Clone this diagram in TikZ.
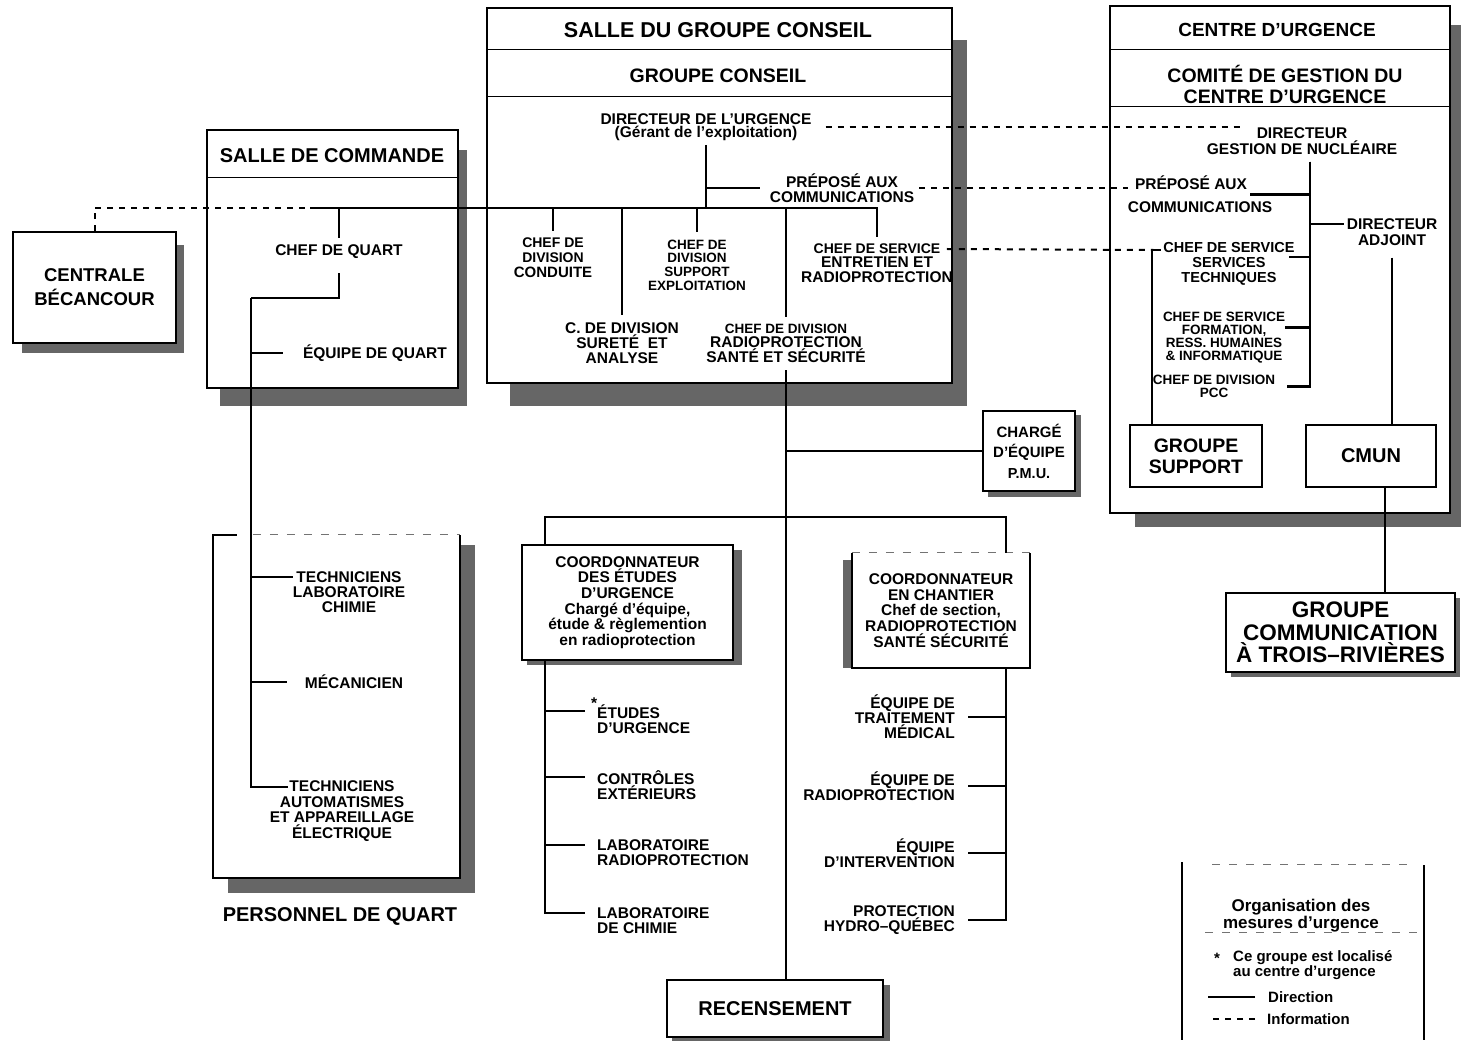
\documentclass[tikz,border=0pt]{standalone}
\usepackage{fontspec}
\setmainfont{Liberation Sans}

\newcommand{\fs}[2]{\fontsize{#1}{#2}\selectfont\bfseries}

\begin{document}
\begin{tikzpicture}[x=1pt, y=-1pt,
        room/.style={draw, line width=1.6pt, fill=white, inner sep=0pt},
        boxshadow/.style={fill=black!60},
        lbl/.style={inner sep=0pt, align=center, font=\fs{15.5}{15}},
        lblsmall/.style={inner sep=0pt, align=center, font=\fs{13.5}{13.5}},
        lblbig/.style={inner sep=0pt, align=center, font=\fs{20}{23}},
        divider/.style={line width=1pt},
        faint/.style={line width=0.8pt, black!55, dash pattern=on 8pt off 9pt},
        dirline/.style={line width=2.3pt},
        infoline/.style={line width=2pt, dash pattern=on 6pt off 6pt}]

        \useasboundingbox (0,0) rectangle (1461,1048);

        % ombres
        \fill[boxshadow] (510,383) rectangle (967,406);
        \fill[boxshadow] (952,40) rectangle (967,406);
        \fill[boxshadow] (220,388) rectangle (467,406);
        \fill[boxshadow] (458,150) rectangle (467,406);
        \fill[boxshadow] (22,343) rectangle (184,353);
        \fill[boxshadow] (176,245) rectangle (184,353);
        \fill[boxshadow] (228,878) rectangle (475,893);
        \fill[boxshadow] (460,545) rectangle (475,893);
        \fill[boxshadow] (1135,513) rectangle (1461,527);
        \fill[boxshadow] (1450,25) rectangle (1461,527);
        \fill[boxshadow] (988,490) rectangle (1081,497);
        \fill[boxshadow] (1075,415) rectangle (1081,497);
        \fill[boxshadow] (527,660) rectangle (742,665);
        \fill[boxshadow] (733,550) rectangle (742,665);
        \fill[boxshadow] (843,560) rectangle (852,668);
        \fill[boxshadow] (672,1037) rectangle (890,1041);
        \fill[boxshadow] (883,985) rectangle (890,1041);
        \fill[boxshadow] (1135,487) rectangle (1268,493);
        \fill[boxshadow] (1262,428) rectangle (1268,493);
        \fill[boxshadow] (1311,487) rectangle (1442,493);
        \fill[boxshadow] (1436,428) rectangle (1442,493);
        \fill[boxshadow] (1231,672) rectangle (1460,677);
        \fill[boxshadow] (1455,598) rectangle (1460,677);

        % salle du groupe conseil
        \node[room, minimum width=465pt, minimum height=375pt] (gcroom) at (719.5,195.5) {};
        \draw[divider] (gcroom.west |- 0,50) -- (gcroom.east |- 0,50);
        \draw[divider] (gcroom.west |- 0,97) -- (gcroom.east |- 0,97);
        \node[lblbig, font=\fs{21.5}{23}] (gctitle) at (718,30) {SALLE DU GROUPE CONSEIL};
        \node[lblbig, font=\fs{19.5}{23}] (gcname) at (718,76) {GROUPE CONSEIL};

        \node[lbl, font=\fs{15.5}{13.5}] (dirurg) at (706,127) {DIRECTEUR DE L'URGENCE\\\fs{15.5}{13.5}(Gérant de l'exploitation)};
        \node[lbl] (prepgc) at (842,188) {PRÉPOSÉ AUX\\COMMUNICATIONS};
        \node[lbl, font=\fs{14}{15}] (chconduite) at (553,258) {CHEF DE\\DIVISION\\\fs{15}{15}CONDUITE};
        \node[lbl] (chsurete) at (622,343) {C. DE DIVISION\\SURETÉ\ \ ET\\ANALYSE};
        \node[lblsmall, font=\fs{13.5}{13.7}] (chsupport) at (697,265) {CHEF DE\\DIVISION\\SUPPORT\\EXPLOITATION};
        \node[lbl, font=\fs{15.5}{14.5}] (chradio) at (786,343) {\fs{13.5}{14.5}CHEF DE DIVISION\\RADIOPROTECTION\\SANTÉ ET SÉCURITÉ};
        \node[lbl, font=\fs{15.5}{14.5}] (chentretien) at (877,263) {\fs{14}{14.5}CHEF DE SERVICE\\ENTRETIEN ET\\RADIOPROTECTION};

        % salle de commande
        \node[room, minimum width=251pt, minimum height=258pt] (scroom) at (332.5,259) {};
        \draw[divider] (scroom.west |- 0,178) -- (scroom.east |- 0,178);
        \node[lblbig] (sctitle) at (332,156) {SALLE DE COMMANDE};
        \node[lbl] (chquart) at (339,252) {CHEF DE QUART};
        \node[lbl] (eqquart) at (375,353) {ÉQUIPE DE QUART};

        \node[room, lblbig, font=\fs{18.5}{24}, minimum width=163pt, minimum height=111pt] (centrale) at (94.5,287.5) {CENTRALE\\BÉCANCOUR};

        % personnel de quart
        \node[fill=white, inner sep=0pt, minimum width=247pt, minimum height=343pt] (pqroom) at (336.5,706.5) {};
        \draw[line width=1.6pt] ([xshift=24pt]pqroom.north west) -- (pqroom.north west) -- (pqroom.south west) -- (pqroom.south east) -- (pqroom.north east);
        \draw[faint] ([xshift=40pt]pqroom.north west) -- (pqroom.north east);
        \node[lblbig] (pqlabel) at (340,916) {PERSONNEL DE QUART};
        \node[lbl] (techchim) at (349,592) {TECHNICIENS\\LABORATOIRE\\CHIMIE};
        \node[lbl] (mecan) at (354,682) {MÉCANICIEN};
        \node[lbl, font=\fs{15.5}{15.7}] (techauto) at (342,811) {TECHNICIENS\\AUTOMATISMES\\ET APPAREILLAGE\\ÉLECTRIQUE};

        % centre d'urgence
        \node[room, minimum width=340pt, minimum height=507pt] (curoom) at (1280,259.5) {};
        \draw[divider] (curoom.west |- 0,50) -- (curoom.east |- 0,50);
        \draw[divider] (curoom.west |- 0,107) -- (curoom.east |- 0,107);
        \node[lblbig, font=\fs{19}{23}] (cutitle) at (1277,30) {CENTRE D'URGENCE};
        \node[lblbig, font=\fs{19.5}{21}] (comite) at (1285,84) {COMITÉ DE GESTION DU\\CENTRE D'URGENCE};

        \node[lbl, font=\fs{15.5}{16}] (dirgn) at (1302,141) {DIRECTEUR\\GESTION DE NUCLÉAIRE};
        \node[lbl, font=\fs{15.5}{23}] (prepcu) at (1200,194.5) {PRÉPOSÉ AUX\hspace*{18pt}\\COMMUNICATIONS};
        \node[lbl, font=\fs{15.5}{16}] (diradj) at (1392,232) {DIRECTEUR\\ADJOINT};
        \node[lbl, font=\fs{14.5}{15}] (chservtech) at (1229,264) {CHEF DE SERVICE\\SERVICES\\TECHNIQUES};
        \node[lblsmall, font=\fs{13.5}{13}] (chform) at (1224,337.5) {CHEF DE SERVICE\\FORMATION,\\RESS. HUMAINES\\\& INFORMATIQUE};
        \node[lblsmall, font=\fs{13.5}{13}] (chpcc) at (1214,386.5) {CHEF DE DIVISION\\PCC};

        \node[room, lblbig, font=\fs{19.5}{21}, minimum width=132pt, minimum height=62pt] (gsupport) at (1196,456) {GROUPE\\SUPPORT};
        \node[room, lblbig, minimum width=130pt, minimum height=62pt] (cmun) at (1371,456) {CMUN};
        \node[room, lblbig, font=\fs{22.5}{22.5}, minimum width=229pt, minimum height=79pt] (grcomm) at (1340.5,632.5) {GROUPE\\COMMUNICATION\\À TROIS–RIVIÈRES};

        % P.M.U. et coordonnateurs
        \node[room, lbl, font=\fs{15}{20.5}, minimum width=92pt, minimum height=80pt] (chargepmu) at (1029,451) {CHARGÉ\\D'ÉQUIPE\\\fs{14.5}{20.5}P.M.U.};
        \node[room, lbl, font=\fs{15.5}{15.6}, minimum width=211pt, minimum height=115pt] (coordet) at (627.5,602.5) {COORDONNATEUR\\DES ÉTUDES\\D'URGENCE\\Chargé d'équipe,\\étude \& règlemention\\en radioprotection};
        \node[lbl, font=\fs{15.5}{15.8}, fill=white, minimum width=178pt, minimum height=115pt] (coordch) at (941,610.5) {COORDONNATEUR\\EN CHANTIER\\Chef de section,\\RADIOPROTECTION\\SANTÉ SÉCURITÉ};
        \draw[line width=1.6pt] (coordch.north west) -- (coordch.south west) -- (coordch.south east) -- (coordch.north east);
        \draw[faint] (coordch.north west) -- (coordch.north east);

        \node[lbl, anchor=west, align=left] (etudes) at (597,719) {\makebox[0pt][r]{\smash{\raisebox{10pt}{*}}}ÉTUDES\\D'URGENCE};
        \node[lbl, anchor=west, align=left] (controles) at (597,785) {CONTRÔLES\\EXTÉRIEURS};
        \node[lbl, anchor=west, align=left] (labradio) at (597,853) {LABORATOIRE\\RADIOPROTECTION};
        \node[lbl, anchor=west, align=left] (labchim) at (597,921) {LABORATOIRE\\DE CHIMIE};

        \node[lbl, anchor=east, align=right] (eqmed) at (955,717) {ÉQUIPE DE\\TRAITEMENT\\MÉDICAL};
        \node[lbl, anchor=east, align=right] (eqradio) at (955,786) {ÉQUIPE DE\\RADIOPROTECTION};
        \node[lbl, anchor=east, align=right] (eqinterv) at (955,853) {ÉQUIPE\\D'INTERVENTION};
        \node[lbl, anchor=east, align=right] (prothq) at (955,920) {PROTECTION\\HYDRO–QUÉBEC};

        \node[room, lblbig, minimum width=216pt, minimum height=57pt] (recens) at (775,1008.5) {RECENSEMENT};

        % liens de direction
        \coordinate (sbus) at (310,208);
        \coordinate (pqbus) at (251,298);
        \coordinate (midbus) at (786,517);
        \coordinate (etspine) at (545,660);
        \coordinate (chspine) at (1006,668);
        \coordinate (cuspine) at (1310,162);

        \draw[dirline] (sbus) -| ([yshift=6pt]chentretien.north);
        \draw[dirline, shorten <=4pt] (dirurg.south) -- (dirurg.south |- sbus);
        \draw[dirline] (dirurg.south |- prepgc.west) -- ([xshift=-10pt]prepgc.west);
        \foreach \n in {chquart,chconduite,chsurete,chsupport,chradio}
            \draw[dirline, shorten >=7pt] (\n.north |- sbus) -- (\n.north);

        \draw[dirline, shorten <=14pt] (chquart.south) |- (pqbus);
        \draw[dirline] (pqbus) |- ([xshift=-20pt]eqquart.west);
        \draw[dirline] (pqbus) |- ([yshift=15pt]techchim.west);
        \draw[dirline] (pqbus) |- ([xshift=-18pt]mecan.west);
        \draw[dirline] (pqbus) |- ([xshift=18pt,yshift=24pt]techauto.west);

        \draw[dirline, shorten <=8pt] (chradio.south) -- (chradio.south |- recens.north);
        \draw[dirline] (chradio.south |- chargepmu.west) -- (chargepmu.west);
        \draw[dirline] (etspine |- coordet.north) |- (midbus) -| (chspine |- coordch.north);
        \foreach \n in {etudes,controles,labradio,labchim}
            \draw[dirline] (etspine) |- ([xshift=-12pt,yshift=8pt]\n.west);
        \foreach \n in {eqmed,eqradio,eqinterv,prothq}
            \draw[dirline] (chspine) |- ([xshift=13pt]\n.east);

        \draw[dirline] (cuspine) |- ([xshift=-22pt]prepcu.east);
        \draw[dirline] (cuspine) |- ([xshift=-3pt,yshift=8pt]diradj.west);
        \draw[dirline] (cuspine) |- ([xshift=-6pt,yshift=7pt]chservtech.east);
        \draw[dirline] (cuspine) |- ([yshift=10pt]chform.east);
        \draw[dirline] (cuspine) |- ([xshift=12pt]chpcc.east);
        \draw[dirline] ([xshift=23pt]gsupport.north west) |- ([xshift=-2pt,yshift=14pt]chservtech.west);
        \draw[dirline, shorten <=12pt] (diradj.south) -- (diradj.south |- cmun.north);
        \draw[dirline] ([xshift=14pt]cmun.south) -- ([xshift=14pt]cmun.south |- grcomm.north);

        % liens d'information
        \draw[infoline] (centrale.north) |- (sbus);
        \draw[infoline] ([xshift=14pt]dirurg.east) -- ([xshift=-62pt]dirgn.north |- dirurg.east);
        \draw[infoline] ([xshift=5pt]prepgc.east) -- (prepgc.east -| prepcu.west);
        \draw[infoline] ([xshift=-6pt,yshift=14pt]chentretien.east) -- ([xshift=-10pt,yshift=14pt]chservtech.west);

        % legende
        \draw[line width=1.2pt] (1182,862) -- (1182,1040);
        \draw[line width=1.2pt] (1424,865) -- (1424,1040);
        \draw[faint] (1212,864) -- (1408,864);
        \draw[faint] (1205,932) -- (1420,932);
        \node[lbl, font=\fs{17}{15}] (lgtitle) at (1301,915.5) {Organisation des\\mesures d'urgence};
        \node[lbl, font=\fs{15}{15}] (lgstar) at (1217,958) {*};
        \node[lbl, font=\fs{15}{15}, anchor=west, align=left] (lgstartxt) at (1233,965) {Ce groupe est localisé\\au centre d'urgence};
        \node[lbl, font=\fs{15}{15}, anchor=west] (lgdirtxt) at (1268,997) {Direction};
        \node[lbl, font=\fs{15}{15}, anchor=west] (lginfotxt) at (1267,1019) {Information};
        \draw[dirline] ([xshift=-13pt]lgdirtxt.west) -- ++(-47,0);
        \draw[infoline] ([xshift=-12pt]lginfotxt.west) -- ++(-47,0);

\end{tikzpicture}
\end{document}
